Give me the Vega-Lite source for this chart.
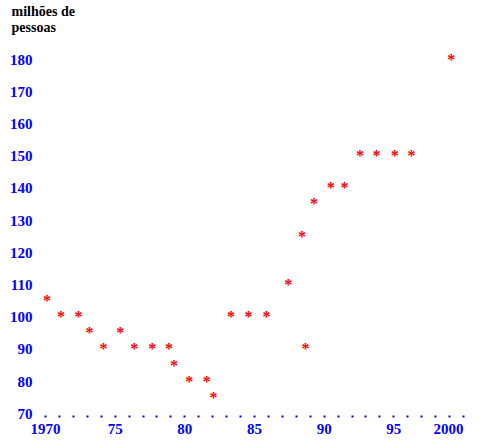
{
  "$schema": "https://vega.github.io/schema/vega-lite/v6.json",
  "width": 480,
  "height": 440,
  "autosize": {"type": "none"},
  "padding": 0,
  "background": "white",
  "config": {"view": {"stroke": null}},
  "data": {"values": [
    {"ano": 1970.15, "pessoas": 105},
    {"ano": 1971.15, "pessoas": 100},
    {"ano": 1972.4, "pessoas": 100},
    {"ano": 1973.2, "pessoas": 95},
    {"ano": 1974.2, "pessoas": 90},
    {"ano": 1975.4, "pessoas": 95},
    {"ano": 1976.4, "pessoas": 90},
    {"ano": 1977.7, "pessoas": 90},
    {"ano": 1978.9, "pessoas": 90},
    {"ano": 1979.25, "pessoas": 85},
    {"ano": 1980.35, "pessoas": 80},
    {"ano": 1981.6, "pessoas": 80},
    {"ano": 1982.1, "pessoas": 75},
    {"ano": 1983.35, "pessoas": 100},
    {"ano": 1984.6, "pessoas": 100},
    {"ano": 1985.9, "pessoas": 100},
    {"ano": 1987.45, "pessoas": 110},
    {"ano": 1988.45, "pessoas": 125},
    {"ano": 1988.7, "pessoas": 90},
    {"ano": 1989.3, "pessoas": 135},
    {"ano": 1990.5, "pessoas": 140},
    {"ano": 1991.5, "pessoas": 140},
    {"ano": 1992.6, "pessoas": 150},
    {"ano": 1993.8, "pessoas": 150},
    {"ano": 1995.1, "pessoas": 150},
    {"ano": 1996.3, "pessoas": 150},
    {"ano": 1999.15, "pessoas": 180}
  ]},
  "mark": {"type": "text", "text": "*", "color": "#ff0000", "font": "Liberation Serif, Times New Roman, serif", "fontWeight": "bold", "fontSize": 16, "baseline": "middle", "align": "center", "dy": 0.5},
  "encoding": {
    "x": {
      "field": "ano", "type": "quantitative",
      "scale": {"domain": [1966.77, 2001.22], "nice": false, "zero": false},
      "axis": {
        "title": null,
        "orient": "bottom",
        "offset": -25,
        "domain": false,
        "grid": false,
        "values": [1970,1971,1972,1973,1974,1975,1976,1977,1978,1979,1980,1981,1982,1983,1984,1985,1986,1987,1988,1989,1990,1991,1992,1993,1994,1995,1996,1997,1998,1999,2000],
        "ticks": true,
        "tickSize": 2,
        "tickWidth": 2,
        "tickColor": "#0000ff",
        "labelExpr": "datum.value == 1970 || datum.value == 2000 ? '' + datum.value : (datum.value % 5 == 0 ? substring('' + datum.value, 2, 4) : '')",
        "labelAlign": {"condition": {"test": "datum.value == 2000", "value": "right"}, "value": "center"},
        "labelDx": {"condition": {"test": "datum.value == 2000", "value": 1}, "value": -1},
        "labelColor": "#0000ff",
        "labelFont": "Liberation Serif, Times New Roman, serif",
        "labelFontWeight": "bold",
        "labelFontSize": 15,
        "labelPadding": 4,
        "labelOverlap": false,
        "labelFlush": false,
        "labelBound": false
      }
    },
    "y": {
      "field": "pessoas", "type": "quantitative",
      "scale": {"domain": [61.71, 198.35], "nice": false, "zero": false},
      "axis": {
        "title": ["milhões de", "pessoas"],
        "titleAngle": 0,
        "titleAlign": "left",
        "titleBaseline": "top",
        "titleX": -23,
        "titleY": 4,
        "titleFont": "Liberation Serif, Times New Roman, serif",
        "titleFontWeight": "bold",
        "titleFontSize": 14,
        "titleLineHeight": 16,
        "titleColor": "#000000",
        "orient": "left",
        "offset": -34,
        "domain": false,
        "grid": false,
        "ticks": false,
        "values": [70,80,90,100,110,120,130,140,150,160,170,180],
        "labelColor": "#0000ff",
        "labelFont": "Liberation Serif, Times New Roman, serif",
        "labelFontWeight": "bold",
        "labelFontSize": 15,
        "labelPadding": 2,
        "labelAlign": "right",
        "labelBaseline": "middle",
        "labelDy": -0.5,
        "labelOverlap": false,
        "labelBound": false,
        "labelFlush": false
      }
    }
  }
}
